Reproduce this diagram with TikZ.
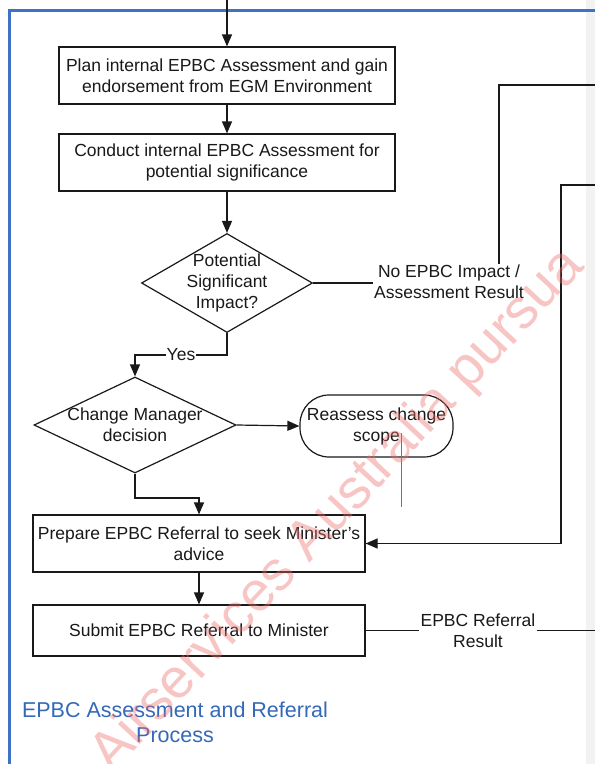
\documentclass[tikz,border=0pt]{standalone}
\usepackage{fontspec}
\setmainfont{Liberation Sans}
\usetikzlibrary{arrows.meta,shapes.geometric,calc}
\definecolor{frameblue}{RGB}{62,114,196}
\definecolor{titleblue}{RGB}{52,104,184}
\definecolor{ink}{RGB}{25,25,25}
\definecolor{wm}{RGB}{238,110,110}
\begin{document}
\begin{tikzpicture}[x=1pt,y=-1pt,
  every node/.style={font=\fontsize{17.5}{21}\selectfont, text=ink},
  proc/.style={draw=ink, line width=1.2pt, fill=white, minimum width=336pt, minimum height=57pt, inner sep=0pt, align=center},
  dec/.style={draw=ink, line width=1.2pt, fill=white, diamond, inner sep=0pt},
  term/.style={draw=ink, line width=1.2pt, fill=white, rounded corners=29pt, minimum width=153pt, minimum height=62pt, inner sep=0pt, align=center},
  lbl/.style={align=center, inner sep=1pt},
  conn/.style={draw=ink, line width=1.2pt},
  arr/.style={conn, -{Triangle[length=12pt,width=10pt]}},
  thin/.style={draw=black!55, line width=0.7pt}
]
\useasboundingbox (0,0) rectangle (595,764);
\clip (0,0) rectangle (595,764);
\fill[white] (0,0) rectangle (595,764);
\fill[black!5] (586,0) rectangle (595,764);
% frame
\draw[frameblue, line width=3pt] (9.5,800) -- (9.5,10.5) -- (620,10.5);

% nodes
\node[proc] (b1) at (227,75.5) {Plan internal EPBC Assessment and gain\\endorsement from EGM Environment};
\node[proc] (b2) at (227,162.5) {Conduct internal EPBC Assessment for\\potential significance};
\node[dec, minimum width=171pt, minimum height=99pt] (d1) at (227,283) {};
\node[lbl] (d1t) at (227,283) {Potential\\Significant\\Impact?};
\node[lbl] (t1) at (449,282) {No EPBC Impact /\\Assessment Result};
\node[dec, minimum width=202pt, minimum height=96pt] (d2) at (135,425) {};
\node[lbl] (d2t) at (135,425) {Change Manager\\decision};
\node[term] (r) at (376.5,426) {Reassess change\\scope};
\node[proc, minimum width=332pt] (b3) at (199,543.5) {Prepare EPBC Referral to seek Minister's\\advice};
\node[proc, minimum width=332pt, minimum height=51pt] (b4) at (199,630.5) {Submit EPBC Referral to Minister};
\node[lbl] (t2) at (478,631) {EPBC Referral\\Result};
\node[align=center, font=\fontsize{21.5}{25}\selectfont, text=titleblue] (title) at (175,722) {EPBC Assessment and Referral\\Process};

% coordinates
\coordinate (top) at (227,0);
\coordinate (n1) at (499,85);
\coordinate (n1e) at (620,85);
\coordinate (n2) at (561,185);
\coordinate (n2e) at (620,185);
\coordinate (yk) at (135,355);
\coordinate (k2) at (199,498);
\coordinate (t2e) at (620,630.5);
\coordinate (g1) at (401,433);
\coordinate (g2) at (401,507);

% connectors
\draw[arr] (top) -- (b1);
\draw[arr] (b1) -- (b2);
\draw[arr] (b2) -- (d1);
\draw[conn] (d1.east) -- (t1.west |- d1.east);
\draw[conn] (t1.north -| n1) -- (n1) -- (n1e);
\draw[arr] (n2e) -- (n2) -- (n2 |- b3.east) -- (b3.east);
\draw[arr] (d1.south) |- node[pos=0.75, fill=white, inner sep=1pt] (yes) {Yes} (yk) -- (d2.north);
\draw[arr] (d2.east) -- (r.west);
\draw[arr] (d2.south) |- (k2) -- (b3.north);
\draw[arr] (b3) -- (b4);
\draw[conn] (b4.east) -- (t2.west |- b4.east);
\draw[conn] (t2.east |- b4.east) -- (t2e);
\draw[thin] (g1) -- (g2);

% watermark
\node[rotate=47, anchor=base west, font=\fontsize{56}{56}\selectfont, text=wm, opacity=0.4, inner sep=0pt] (wmk) at (112,775) {Airservices Australia pursua};
\end{tikzpicture}
\end{document}
